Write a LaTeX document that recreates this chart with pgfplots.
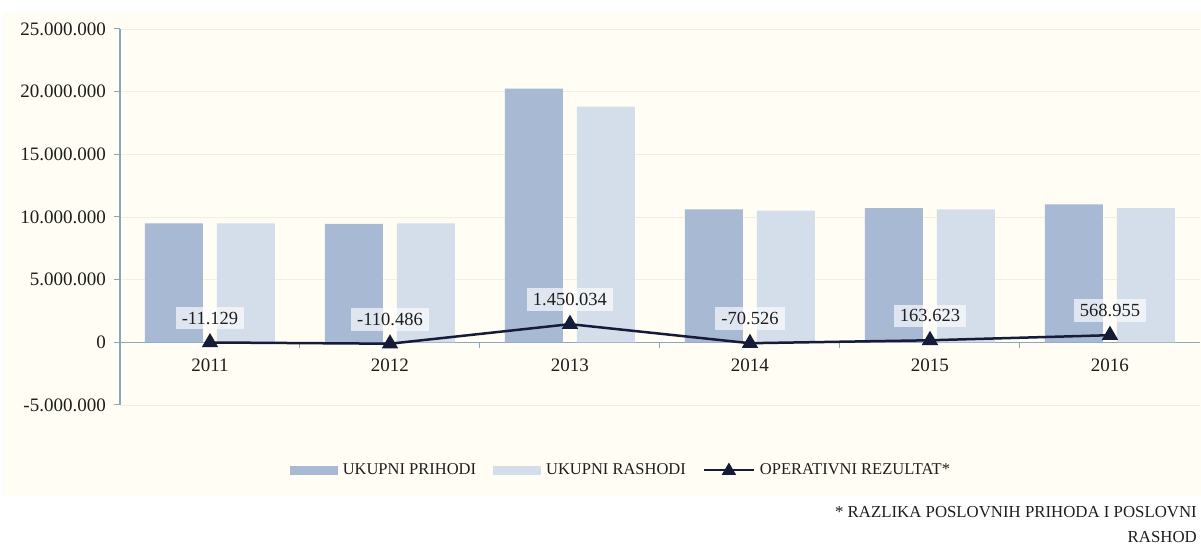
\documentclass[border=0pt]{standalone}
\usepackage{fontspec}
\setmainfont{Liberation Serif}
\usepackage{pgfplots}
\pgfplotsset{compat=1.18}
\definecolor{bgc}{HTML}{FFFDF4}
\definecolor{barA}{HTML}{A7B9D3}
\definecolor{barB}{HTML}{D3DEEA}
\definecolor{axc}{HTML}{86A9BF}
\definecolor{linec}{HTML}{161C38}
\definecolor{gridc}{HTML}{F1EEE3}
\definecolor{txt}{HTML}{1E1E1E}
\pgfplotsset{
  legA/.style={legend image code/.code={\fill[barA] (0pt,-4.5pt) rectangle (48pt,4.5pt);}},
  legB/.style={legend image code/.code={\fill[barB] (0pt,-4.5pt) rectangle (48pt,4.5pt);}},
  legL/.style={legend image code/.code={\draw[linec, line width=2pt] (0pt,0pt) -- (50pt,0pt);
      \fill[linec] (25pt,5pt) -- (20pt,-3.5pt) -- (30pt,-3.5pt) -- cycle;}},
}
\begin{document}
\begin{tikzpicture}[x=1pt,y=1pt]
\useasboundingbox (0,0) rectangle (1201,545);
\fill[bgc] (3,48) rectangle (1201,533);
\begin{axis}[
  at={(120pt,140pt)}, anchor=south west,
  scale only axis, width=1080pt, height=376pt,
  xmin=-0.5, xmax=5.5, ymin=-5000000, ymax=25000000,
  scaled y ticks=false,
  axis x line*=middle, axis y line*=left,
  axis line style={axc, line width=1.2pt},
  clip=false,
  hide obscured y ticks=false, hide obscured x ticks=false,
  tick align=outside,
  xtick={0,1,2,3,4,5},
  xticklabels={2011,2012,2013,2014,2015,2016},
  major x tick style={draw=none},
  minor xtick={0.5,1.5,2.5,3.5,4.5},
  minor x tick style={axc, line width=1pt},
  minor tick length=6pt,
  major tick length=6pt,
  ytick={-5000000,0,5000000,10000000,15000000,20000000,25000000},
  yticklabels={-5.000.000,0,5.000.000,10.000.000,15.000.000,20.000.000,25.000.000},
  y tick style={axc, line width=1pt},
  ymajorgrids, grid style={gridc, line width=0.8pt},
  ticklabel style={font=\fontsize{19}{21}\selectfont, text=txt},
  xticklabel style={inner sep=0pt, yshift=-10pt},
  yticklabel style={inner sep=0pt, xshift=-8pt},
  legend style={at={(0.157,-0.173)}, anchor=west, draw=none, fill=none,
    font=\fontsize{16.5}{19}\selectfont, text=txt, inner sep=0pt,
    /tikz/every odd column/.append style={column sep=3pt},
    /tikz/every even column/.append style={column sep=15pt}},
  legend columns=3,
  legend cell align=left,
]
\addplot[ybar, bar width=58pt, bar shift=-36pt, fill=barA, draw=none, legA]
  coordinates {(0,9500000) (1,9450000) (2,20250000) (3,10600000) (4,10700000) (5,11000000)};
\addlegendentry{UKUPNI PRIHODI}
\addplot[ybar, bar width=58pt, bar shift=36pt, fill=barB, draw=none, legB]
  coordinates {(0,9500000) (1,9500000) (2,18800000) (3,10500000) (4,10600000) (5,10700000)};
\addlegendentry{UKUPNI RASHODI}
\addplot[linec, line width=2.5pt, mark=triangle*, mark size=7pt, mark options={solid, fill=linec}, legL]
  coordinates {(0,-11129) (1,-110486) (2,1450034) (3,-70526) (4,163623) (5,568955)};
\addlegendentry{OPERATIVNI REZULTAT*}
\addplot[draw=none, forget plot, nodes near coords, point meta=explicit symbolic,
  every node near coord/.append style={text=txt, fill=white, fill opacity=0.65, text opacity=1,
    anchor=south, yshift=13pt, inner xsep=6pt, inner ysep=5pt, font=\fontsize{18.5}{20}\selectfont}]
  coordinates {(0,-11129)[-11.129] (1,-110486)[-110.486] (2,1450034)[1.450.034]
    (3,-70526)[-70.526] (4,163623)[163.623] (5,568955)[568.955]};
\end{axis}
\node[anchor=east, inner sep=0pt, text=txt, font=\fontsize{16.8}{19}\selectfont] at (1197,33) {* RAZLIKA POSLOVNIH PRIHODA I POSLOVNI};
\node[anchor=east, inner sep=0pt, text=txt, font=\fontsize{16.8}{19}\selectfont] at (1197,8) {RASHOD};
\end{tikzpicture}
\end{document}
